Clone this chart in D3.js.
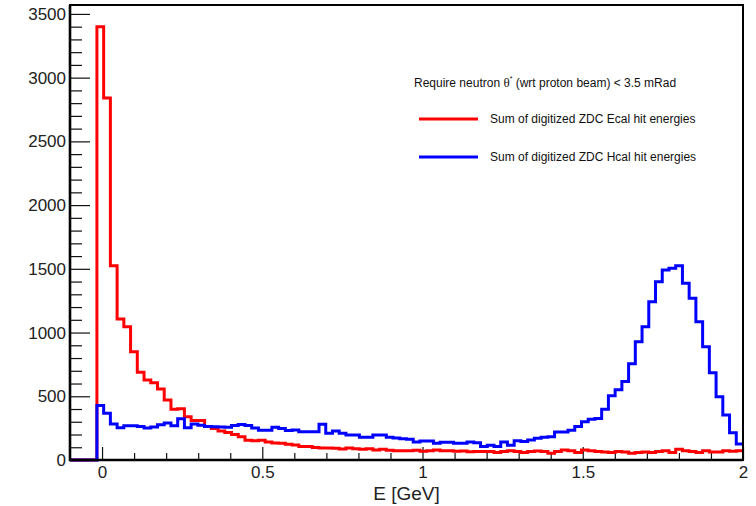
<!DOCTYPE html>
<html>
<head>
<meta charset="utf-8">
<script src="https://cdn.jsdelivr.net/npm/d3@7"></script>
<style>
  body { margin: 0; background: #fff; }
  svg { display: block; font-family: "Liberation Sans", Arial, sans-serif; }
</style>
</head>
<body>
<svg id="chart"></svg>
<script>
// Histogram binning: 100 bins from -0.1 to 2.0 GeV
const nBins = 100;
const xMin = -0.1;
const xMax = 2.0;

// Sum of digitized ZDC Ecal hit energies (counts per bin)
const ecalCounts = [
  0, 0, 0, 0, 3400, 2840, 1525, 1106, 1046, 850,
  688, 628, 607, 557, 471, 398, 403, 340, 309, 309,
  262, 248, 227, 215, 201, 183, 155, 152, 154, 141,
  133, 131, 124, 118, 105, 105, 99, 94, 94, 92,
  86, 94, 89, 84, 89, 78, 84, 76, 73, 73,
  73, 76, 68, 73, 78, 73, 73, 68, 71, 65,
  66, 66, 66, 58, 66, 73, 66, 58, 66, 71,
  66, 52, 66, 78, 73, 58, 78, 73, 66, 63,
  58, 66, 63, 52, 58, 63, 58, 66, 73, 58,
  84, 73, 66, 58, 73, 63, 63, 73, 68, 73
];

// Sum of digitized ZDC Hcal hit energies (counts per bin)
const hcalCounts = [
  0, 0, 0, 0, 428, 366, 282, 254, 269, 268,
  262, 251, 259, 277, 290, 268, 324, 254, 282, 272,
  262, 260, 258, 256, 270, 278, 270, 252, 234, 234,
  256, 247, 232, 235, 222, 222, 222, 280, 209, 227,
  209, 196, 196, 178, 178, 196, 196, 178, 172, 167,
  162, 141, 149, 149, 131, 139, 139, 131, 131, 141,
  136, 105, 115, 105, 141, 115, 152, 146, 157, 170,
  178, 183, 220, 220, 233, 262, 301, 319, 326, 398,
  505, 552, 615, 755, 928, 1046, 1242, 1399, 1491, 1504,
  1525, 1386, 1269, 1085, 889, 685, 497, 353, 214, 126
];

const xMajorTicks = [0, 0.5, 1, 1.5, 2];
const yMajorTicks = [0, 500, 1000, 1500, 2000, 2500, 3000, 3500];

const legendTitle = "Require neutron ";
const legendTitleRest = " (wrt proton beam) < 3.5 mRad";
const seriesNames = [
  "Sum of digitized ZDC Ecal hit energies",
  "Sum of digitized ZDC Hcal hit energies"
];
const seriesColors = ["#ff0000", "#0000ff"];

// Layout
const W = 756;
const H = 506;
const frame = { left: 70, right: 743, top: 5, bottom: 460 };

const svg = d3.select("#chart").attr("width", W).attr("height", H);

const x = d3.scaleLinear().domain([xMin, xMax]).range([frame.left, frame.right]);
const y = d3.scaleLinear().domain([0, 3570]).range([frame.bottom, frame.top]);

const binWidth = (xMax - xMin) / nBins;

// minor ticks (every 0.1 / every 100)
const xMinorTicks = d3.range(0, 20).map((i) => +(i * 0.1).toFixed(1)).filter((v) => xMajorTicks.indexOf(v) < 0);
const yMinorTicks = d3.range(0, 36).map((i) => i * 100).filter((v) => v % 500 !== 0);

// Y axis
svg
  .append("g")
  .attr("transform", "translate(" + frame.left + ",0)")
  .call(d3.axisLeft(y).tickValues(yMinorTicks).tickSize(-12).tickFormat(""))
  .call((g) => g.select(".domain").remove());

svg
  .append("g")
  .attr("class", "y-major")
  .attr("transform", "translate(" + frame.left + ",0)")
  .call(d3.axisLeft(y).tickValues(yMajorTicks).tickSize(-20).tickPadding(4).tickFormat((d) => d))
  .call((g) => g.select(".domain").remove());

// X axis
svg
  .append("g")
  .attr("transform", "translate(0," + frame.bottom + ")")
  .call(d3.axisBottom(x).tickValues(xMinorTicks).tickSize(-7).tickFormat(""))
  .call((g) => g.select(".domain").remove());

svg
  .append("g")
  .attr("class", "x-major")
  .attr("transform", "translate(0," + frame.bottom + ")")
  .call(d3.axisBottom(x).tickValues(xMajorTicks).tickSize(-13).tickPadding(6).tickFormat((d) => d))
  .call((g) => g.select(".domain").remove());

svg.selectAll(".tick line").attr("stroke", "#111").attr("stroke-width", 1.2);
svg
  .selectAll(".y-major text, .x-major text")
  .attr("font-size", 17)
  .attr("font-family", "Liberation Sans, Arial, sans-serif")
  .attr("fill", "#222");

// x axis title
svg
  .append("text")
  .attr("x", (frame.left + frame.right) / 2)
  .attr("y", 500)
  .attr("text-anchor", "middle")
  .attr("font-size", 19)
  .attr("fill", "#222")
  .text("E [GeV]");

// Step outline of a histogram
function stepPath(counts) {
  const p = d3.path();
  counts.forEach(function (c, i) {
    const x0 = x(xMin + i * binWidth);
    const x1 = x(xMin + (i + 1) * binWidth);
    if (i === 0) p.moveTo(x0, y(c));
    else p.lineTo(x0, y(c));
    p.lineTo(x1, y(c));
  });
  return p.toString();
}

[ecalCounts, hcalCounts].forEach(function (counts, i) {
  svg
    .append("path")
    .attr("d", stepPath(counts))
    .attr("fill", "none")
    .attr("stroke", seriesColors[i])
    .attr("stroke-width", 3)
    .attr("stroke-linejoin", "miter");
});

// Frame
svg
  .append("rect")
  .attr("x", frame.left)
  .attr("y", frame.top)
  .attr("width", frame.right - frame.left)
  .attr("height", frame.bottom - frame.top)
  .attr("fill", "none")
  .attr("stroke", "#000")
  .attr("stroke-width", 2);

svg
  .append("path")
  .attr("d", "M" + frame.left + "," + frame.top + "V" + frame.bottom + "H" + frame.right)
  .attr("fill", "none")
  .attr("stroke", "#000")
  .attr("stroke-width", 2.6);

// Legend
const legend = svg.append("g").attr("font-size", 12).attr("fill", "#111");

const title = legend.append("text").attr("x", 414).attr("y", 87);
title.append("tspan").text(legendTitle);
title.append("tspan").attr("font-family", "Liberation Serif, serif").attr("font-size", 13).text("θ");
title.append("tspan").attr("font-size", 7).attr("dy", -6).text("*");
title.append("tspan").attr("dy", 6).text(legendTitleRest);

seriesNames.forEach(function (name, i) {
  const ly = 119 + i * 38;
  legend
    .append("line")
    .attr("x1", 419)
    .attr("x2", 478)
    .attr("y1", ly)
    .attr("y2", ly)
    .attr("stroke", seriesColors[i])
    .attr("stroke-width", 3);
  legend
    .append("text")
    .attr("x", 490)
    .attr("y", ly + 4)
    .text(name);
});
</script>
</body>
</html>
